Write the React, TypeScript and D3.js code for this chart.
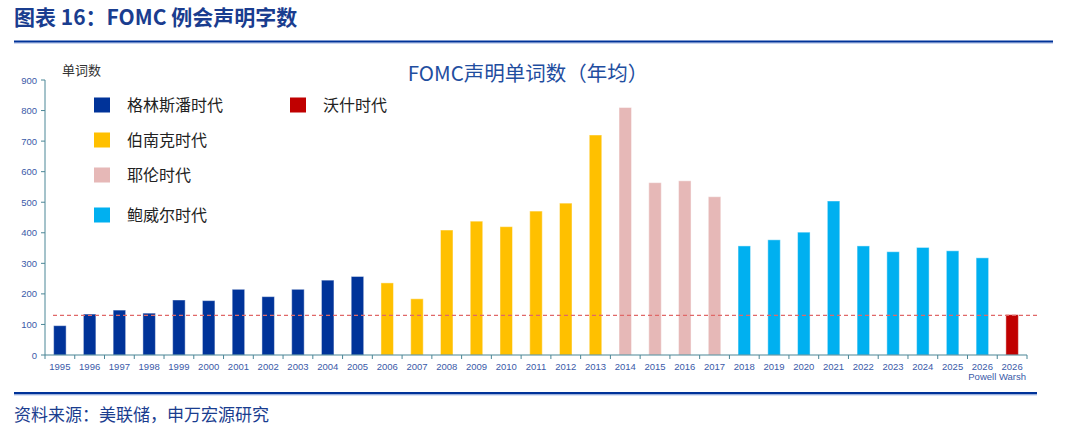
import React from "react";
import * as d3 from "d3";

// categories on the x axis (last one is the Warsh estimate)
const years = [
  "1995", "1996", "1997", "1998", "1999", "2000", "2001", "2002", "2003", "2004", "2005",
  "2006", "2007", "2008", "2009", "2010", "2011", "2012", "2013",
  "2014", "2015", "2016", "2017",
  "2018", "2019", "2020", "2021", "2022", "2023", "2024", "2025", "2026",
  "2026",
];
const subLabels = ["", "", "", "", "", "", "", "", "", "", "", "", "", "", "", "", "", "", "", "", "", "", "", "", "", "", "", "", "", "", "", "", "Powell Warsh"];

// average words per FOMC statement
const wordCounts = [
  96, 134, 147, 137, 180, 178, 215, 191, 215, 245, 257,
  236, 184, 409, 438, 420, 471, 497, 720,
  810, 564, 570, 518,
  357, 377, 402, 504, 357, 338, 352, 341, 318,
  132,
];
const eras = [
  "g", "g", "g", "g", "g", "g", "g", "g", "g", "g", "g",
  "b", "b", "b", "b", "b", "b", "b", "b",
  "y", "y", "y", "y",
  "p", "p", "p", "p", "p", "p", "p", "p", "p",
  "w",
];

const eraKeys = ["g", "b", "y", "p", "w"];
const eraNames = ["格林斯潘时代", "伯南克时代", "耶伦时代", "鲍威尔时代", "沃什时代"];
const eraColors = ["#003399", "#FFC000", "#E6B8B7", "#00B0F0", "#C00000"];

const yTicks = [0, 100, 200, 300, 400, 500, 600, 700, 800, 900];
const refLevel = 130;

const width = 1080;
const height = 436;
const cjk = "'Noto Sans CJK SC', 'Noto Sans', sans-serif";
const latin = "'Liberation Sans', Arial, sans-serif";

export default function App() {
  const x = d3.scaleBand<number>()
    .domain(d3.range(years.length))
    .range([45, 1027])
    .paddingInner(0.58)
    .paddingOuter(0.29);

  const y = d3.scaleLinear().domain([0, 900]).range([355, 80]);
  const color = d3.scaleOrdinal<string, string>().domain(eraKeys).range(eraColors);

  const step = x.step();
  const x0 = 45;

  // legend slots
  const legendPos = [
    { lx: 94, ly: 105 },
    { lx: 94, ly: 140 },
    { lx: 94, ly: 175 },
    { lx: 94, ly: 215 },
    { lx: 290, ly: 105 },
  ];

  return (
    <svg width={width} height={height} style={{ position: "absolute", left: 0, top: 0, background: "#fff" }}>
      {/* header */}
      <text x={14} y={25} fontFamily={cjk} fontWeight="bold" fontSize={21} fill="#1a3d8f">
        图表 16：FOMC 例会声明字数
      </text>
      <rect x={14} y={40.5} width={1039} height={2.2} fill="#003399" />
      <rect x={14} y={42.7} width={1039} height={1} fill="#b8c8ec" />

      {/* chart title */}
      <text x={528} y={81} textAnchor="middle" fontFamily={cjk} fontSize={20.5} fill="#1f4ea0">
        FOMC声明单词数（年均）
      </text>
      <text x={62} y={75} fontFamily={cjk} fontSize={13} fill="#333">单词数</text>

      {/* y axis */}
      <line x1={x0} x2={x0} y1={y(900)} y2={y(0)} stroke="#4b8696" strokeWidth={1} />
      {yTicks.map((t) => (
        <g key={t}>
          <line x1={x0 - 4} x2={x0} y1={y(t)} y2={y(t)} stroke="#4b8696" />
          <text x={37} y={y(t) + 3.5} textAnchor="end" fontFamily={latin} fontSize={9.5} fill="#3a5aa8">
            {t}
          </text>
        </g>
      ))}

      {/* bars */}
      {wordCounts.map((v, i) => (
        <rect
          key={i}
          x={x(i)}
          y={y(v)}
          width={x.bandwidth()}
          height={y(0) - y(v)}
          fill={color(eras[i])}
          stroke="#ffffff"
          strokeOpacity={0.45}
          strokeWidth={1}
        />
      ))}

      {/* reference dashed line */}
      <line x1={53} x2={1037} y1={y(refLevel)} y2={y(refLevel)} stroke="#e06868" strokeWidth={1.2} strokeDasharray="4 3" />

      {/* x axis */}
      <line x1={x0} x2={1027} y1={y(0)} y2={y(0)} stroke="#4b8696" strokeWidth={1.2} />
      {d3.range(years.length + 1).map((i) => (
        <line key={i} x1={x0 + i * step} x2={x0 + i * step} y1={y(0)} y2={y(0) + 4} stroke="#4b8696" />
      ))}
      {years.map((yr, i) => (
        <text key={i} x={(x(i) ?? 0) + x.bandwidth() / 2} y={369.5} textAnchor="middle" fontFamily={latin} fontSize={9.5} fill="#3a5aa8">
          {yr}
        </text>
      ))}
      {subLabels.map((s, i) =>
        s ? (
          <text key={"s" + i} x={1026} y={380} textAnchor="end" fontFamily={latin} fontSize={9.5} fill="#3a5aa8">
            {s}
          </text>
        ) : null
      )}

      {/* legend */}
      {eraKeys.map((k, i) => (
        <g key={k}>
          <rect x={legendPos[i].lx} y={legendPos[i].ly - 7.5} width={16} height={15} fill={eraColors[i]} />
          <text x={legendPos[i].lx + 33} y={legendPos[i].ly + 6} fontFamily={cjk} fontSize={16} fill="#222">
            {eraNames[i]}
          </text>
        </g>
      ))}

      {/* footer */}
      <rect x={14} y={392} width={1023} height={2.5} fill="#003399" />
      <rect x={14} y={394.5} width={1023} height={1} fill="#b8c8ec" />
      <text x={14} y={421} fontFamily={cjk} fontSize={17} fill="#1a3d8f">
        资料来源：美联储，申万宏源研究
      </text>
    </svg>
  );
}
